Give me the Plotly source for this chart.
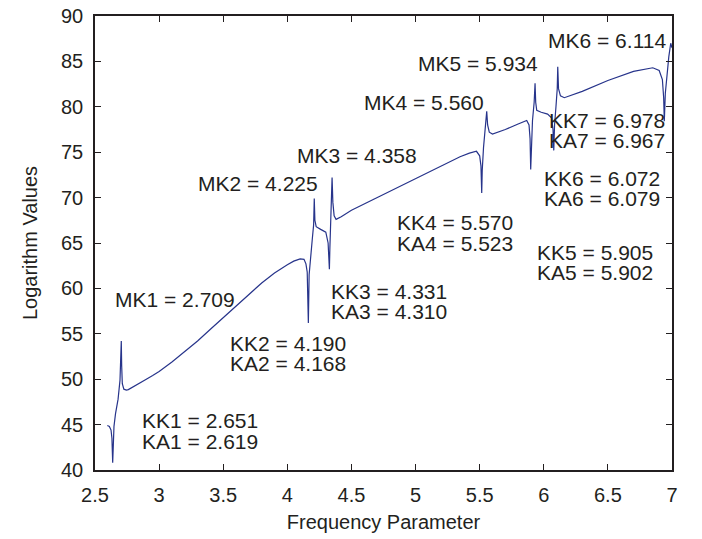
import plotly.graph_objects as go

# Curve (frequency parameter, logarithm value)
freq = [2.596, 2.612, 2.625, 2.632, 2.638, 2.642, 2.648, 2.660, 2.680, 2.695, 2.700, 2.705,
        2.708, 2.713, 2.725, 2.745, 2.76, 2.80, 2.85, 2.90, 2.95, 3.0, 3.1, 3.2, 3.3, 3.4,
        3.5, 3.6, 3.7, 3.8, 3.9, 3.95, 4.0, 4.05, 4.1, 4.13,
        4.145, 4.155, 4.160, 4.164, 4.170, 4.18, 4.195, 4.205, 4.210, 4.215, 4.225,
        4.26, 4.30, 4.318, 4.325, 4.328, 4.332, 4.34, 4.345, 4.349, 4.355, 4.365, 4.38,
        4.42, 4.5, 4.7, 4.879, 5.1, 5.347, 5.42, 5.475, 5.50, 5.51, 5.516, 5.52, 5.53,
        5.545, 5.555, 5.562, 5.575, 5.6, 5.7, 5.8, 5.867, 5.885, 5.893, 5.898, 5.903,
        5.912, 5.925, 5.932, 5.937, 5.945, 5.98, 6.03, 6.06, 6.072, 6.078, 6.084, 6.095,
        6.105, 6.109, 6.115, 6.13, 6.16, 6.3, 6.5, 6.7, 6.85, 6.9, 6.925, 6.935, 6.94,
        6.948, 6.96, 6.975, 6.99, 7.0]
logval = [44.9, 44.8, 44.4, 43.5, 40.8, 43.5, 44.8, 46.2, 47.8, 49.9, 51.5, 54.2,
          51.5, 49.5, 48.9, 48.8, 48.85, 49.2, 49.6, 50.0, 50.4, 50.85, 51.9, 53.0, 54.2, 55.5,
          56.8, 58.1, 59.4, 60.6, 61.7, 62.2, 62.6, 63.0, 63.25, 63.2,
          62.7, 61.8, 59.5, 56.2, 61.5, 63.5, 65.5, 67.0, 69.9, 67.5, 66.8,
          66.5, 66.2, 65.0, 63.5, 62.1, 64.5, 67.5, 69.0, 72.2, 69.5, 68.0, 67.6,
          67.9, 68.6, 70.0, 71.2, 72.8, 74.5, 74.9, 75.1, 74.6, 73.5, 70.5, 73.0, 75.5,
          77.5, 79.5, 78.0, 77.2, 77.0, 77.5, 78.1, 78.5, 78.0, 76.5, 73.1, 76.0,
          78.5, 80.5, 82.6, 80.5, 79.6, 79.4, 79.2, 78.8, 77.5, 75.2, 78.0, 80.0,
          82.0, 84.4, 82.0, 81.2, 81.0, 81.7, 82.9, 83.9, 84.3, 84.0, 83.0, 81.0, 78.4,
          81.5, 83.5, 85.5, 87.0, 86.5]

# Annotation texts and their anchor positions (data units)
label_text = ["MK1 = 2.709", "KK1 = 2.651", "KA1 = 2.619", "KK2 = 4.190", "KA2 = 4.168",
              "MK2 = 4.225", "MK3 = 4.358", "KK3 = 4.331", "KA3 = 4.310", "MK4 = 5.560",
              "KK4 = 5.570", "KA4 = 5.523", "MK5 = 5.934", "MK6 = 6.114", "KK7 = 6.978",
              "KA7 = 6.967", "KK6 = 6.072", "KA6 = 6.079", "KK5 = 5.905", "KA5 = 5.902"]
label_x = [2.643, 2.851, 2.851, 3.535, 3.535, 3.288, 4.060, 4.327, 4.327, 4.582,
           4.840, 4.840, 5.003, 6.017, 6.028, 6.028, 5.984, 5.984, 5.932, 5.932]
label_y = [58.83, 45.40, 43.15, 53.95, 51.70, 71.50, 74.69, 59.70, 57.45, 80.42,
           67.25, 65.00, 84.82, 87.30, 78.50, 76.25, 72.10, 69.85, 64.00, 61.75]

x_ticks = [2.5, 3, 3.5, 4, 4.5, 5, 5.5, 6, 6.5, 7]
x_tick_labels = ["2.5", "3", "3.5", "4", "4.5", "5", "5.5", "6", "6.5", "7"]
y_ticks = [40, 45, 50, 55, 60, 65, 70, 75, 80, 85, 90]
y_tick_labels = [str(v) for v in y_ticks]

FONT = "Liberation Sans, Arial, sans-serif"
TXT = "#231f20"

fig = go.Figure()
fig.add_trace(go.Scatter(x=freq, y=logval, mode="lines",
                         line=dict(color="#27348b", width=1.2), showlegend=False,
                         hoverinfo="skip"))

for t, ax, ay in zip(label_text, label_x, label_y):
    fig.add_annotation(x=ax, y=ay, text=t, showarrow=False, xanchor="left",
                       yanchor="middle", font=dict(family=FONT, size=21, color=TXT))

axis_common = dict(showline=True, linecolor="#231f20", linewidth=1.5, mirror="ticks",
                   ticks="inside", ticklen=6, tickwidth=1, tickcolor="#231f20",
                   showgrid=False, zeroline=False, automargin=False,
                   ticklabeloverflow="allow",
                   tickfont=dict(family=FONT, size=20, color=TXT))

fig.update_xaxes(range=[2.5, 7], tickmode="array", tickvals=x_ticks, ticktext=x_tick_labels,
                 title=dict(text="Frequency Parameter", font=dict(family=FONT, size=20, color=TXT),
                            standoff=10),
                 ticklabelstandoff=6,
                 **axis_common)
fig.update_yaxes(range=[40, 90], tickmode="array", tickvals=y_ticks, ticktext=y_tick_labels,
                 title=dict(text="Logarithm Values", font=dict(family=FONT, size=20, color=TXT),
                            standoff=18),
                 ticklabelstandoff=6,
                 **axis_common)

fig.update_layout(width=702, height=539, autosize=False,
                  margin=dict(l=95, r=30, t=16, b=69),
                  plot_bgcolor="white", paper_bgcolor="white")

# remove the browser's default 8px body margin so the figure fills the window exactly
fig.write_html("out.html", config={"displayModeBar": False},
               post_script="document.body.style.margin='0';document.body.style.overflow='hidden';")
